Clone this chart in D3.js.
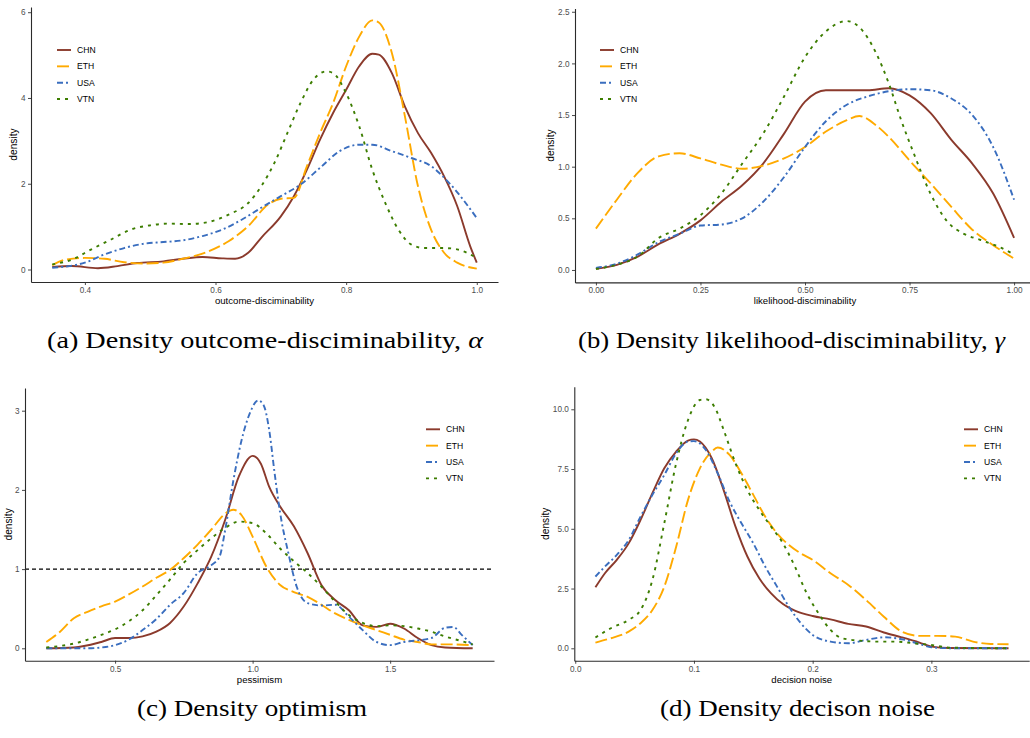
<!DOCTYPE html>
<html>
<head>
<meta charset="utf-8">
<script src="https://cdn.jsdelivr.net/npm/d3@7"></script>
<style>
  html, body { margin: 0; padding: 0; background: #ffffff; }
  svg { display: block; }
</style>
</head>
<body>
<svg id="fig" width="1030" height="738"></svg>
<script>
// ---- series names ----
const countries = ["CHN", "ETH", "USA", "VTN"];

// ---- (a) outcome-disciminability densities: [x, density] ----
const outcomeCHN = [[0.35,0.06],[0.38,0.08],[0.42,0.03],[0.45,0.08],[0.48,0.15],[0.52,0.19],[0.55,0.25],[0.58,0.29],[0.61,0.26],[0.63,0.25],[0.65,0.39],[0.67,0.74],[0.70,1.24],[0.72,1.71],[0.74,2.33],[0.76,3.03],[0.78,3.65],[0.80,4.19],[0.82,4.74],[0.84,5.03],[0.85,5.01],[0.87,4.58],[0.89,3.80],[0.91,3.18],[0.93,2.72],[0.95,2.17],[0.97,1.48],[0.99,0.54],[1.00,0.16]];
const outcomeETH = [[0.35,0.10],[0.37,0.23],[0.40,0.27],[0.43,0.25],[0.46,0.17],[0.49,0.14],[0.52,0.16],[0.55,0.25],[0.58,0.37],[0.62,0.66],[0.65,1.01],[0.68,1.51],[0.70,1.65],[0.72,1.67],[0.74,2.41],[0.76,3.18],[0.78,3.88],[0.80,4.74],[0.82,5.43],[0.84,5.81],[0.85,5.76],[0.87,5.05],[0.89,3.57],[0.91,1.94],[0.93,0.93],[0.95,0.39],[0.97,0.16],[1.00,0.02]];
const outcomeUSA = [[0.35,0.04],[0.40,0.16],[0.43,0.35],[0.46,0.50],[0.49,0.60],[0.52,0.64],[0.55,0.68],[0.58,0.78],[0.61,0.93],[0.64,1.16],[0.67,1.44],[0.70,1.71],[0.73,1.98],[0.76,2.37],[0.79,2.76],[0.82,2.91],[0.84,2.91],[0.87,2.76],[0.90,2.60],[0.93,2.41],[0.96,1.98],[1.00,1.20]];
const outcomeVTN = [[0.35,0.12],[0.38,0.23],[0.41,0.47],[0.44,0.70],[0.47,0.93],[0.50,1.03],[0.53,1.07],[0.56,1.06],[0.59,1.11],[0.62,1.28],[0.65,1.55],[0.67,1.94],[0.69,2.48],[0.71,3.18],[0.73,3.88],[0.75,4.43],[0.77,4.62],[0.78,4.58],[0.80,4.11],[0.82,3.34],[0.84,2.33],[0.86,1.55],[0.88,0.93],[0.90,0.58],[0.92,0.50],[0.95,0.50],[0.97,0.47],[1.00,0.27]];

// ---- (b) likelihood-disciminability densities ----
const likelihoodCHN = [[0.00,0.01],[0.05,0.05],[0.10,0.13],[0.15,0.25],[0.20,0.35],[0.25,0.48],[0.30,0.66],[0.35,0.82],[0.40,1.03],[0.45,1.32],[0.50,1.63],[0.55,1.74],[0.60,1.74],[0.65,1.74],[0.70,1.76],[0.75,1.69],[0.80,1.52],[0.85,1.26],[0.90,1.03],[0.95,0.74],[1.00,0.31]];
const likelihoodETH = [[0.00,0.40],[0.05,0.68],[0.10,0.94],[0.15,1.10],[0.20,1.13],[0.25,1.08],[0.30,1.02],[0.35,0.98],[0.40,1.01],[0.45,1.08],[0.50,1.19],[0.55,1.34],[0.60,1.45],[0.63,1.49],[0.67,1.40],[0.70,1.29],[0.75,1.06],[0.80,0.84],[0.85,0.61],[0.90,0.39],[0.95,0.24],[1.00,0.11]];
const likelihoodUSA = [[0.00,0.02],[0.05,0.06],[0.10,0.15],[0.15,0.27],[0.20,0.35],[0.25,0.43],[0.30,0.44],[0.35,0.50],[0.40,0.66],[0.45,0.90],[0.50,1.19],[0.55,1.44],[0.60,1.60],[0.65,1.68],[0.70,1.73],[0.75,1.75],[0.80,1.74],[0.85,1.66],[0.90,1.50],[0.95,1.19],[1.00,0.68]];
const likelihoodVTN = [[0.00,0.01],[0.05,0.05],[0.10,0.13],[0.15,0.31],[0.20,0.40],[0.25,0.53],[0.30,0.74],[0.35,1.03],[0.40,1.32],[0.45,1.68],[0.50,2.06],[0.55,2.31],[0.60,2.41],[0.63,2.35],[0.67,2.10],[0.70,1.81],[0.73,1.45],[0.76,1.13],[0.80,0.74],[0.84,0.47],[0.88,0.35],[0.92,0.29],[0.96,0.23],[1.00,0.15]];

// ---- (c) pessimism densities ----
const pessimismCHN = [[0.25,0.00],[0.35,0.01],[0.45,0.08],[0.50,0.13],[0.55,0.13],[0.60,0.15],[0.65,0.21],[0.70,0.32],[0.75,0.53],[0.80,0.82],[0.85,1.16],[0.90,1.62],[0.95,2.17],[1.00,2.43],[1.03,2.33],[1.06,2.04],[1.10,1.79],[1.15,1.54],[1.20,1.20],[1.25,0.80],[1.30,0.61],[1.35,0.48],[1.40,0.29],[1.45,0.27],[1.50,0.31],[1.55,0.25],[1.60,0.13],[1.65,0.04],[1.70,0.01],[1.80,0.00]];
const pessimismETH = [[0.25,0.08],[0.30,0.21],[0.35,0.38],[0.40,0.46],[0.45,0.53],[0.50,0.59],[0.55,0.68],[0.60,0.78],[0.65,0.89],[0.70,0.99],[0.75,1.14],[0.80,1.31],[0.85,1.50],[0.90,1.70],[0.93,1.75],[0.96,1.68],[1.00,1.41],[1.05,1.03],[1.10,0.80],[1.15,0.71],[1.20,0.65],[1.25,0.55],[1.30,0.44],[1.35,0.36],[1.40,0.29],[1.45,0.23],[1.50,0.17],[1.55,0.11],[1.60,0.08],[1.65,0.05],[1.70,0.05],[1.80,0.04]];
const pessimismUSA = [[0.25,0.00],[0.40,0.00],[0.45,0.01],[0.50,0.04],[0.55,0.11],[0.60,0.23],[0.65,0.37],[0.70,0.55],[0.75,0.70],[0.80,0.95],[0.85,1.05],[0.88,1.16],[0.90,1.49],[0.93,2.12],[0.96,2.63],[0.99,2.97],[1.02,3.13],[1.04,3.07],[1.06,2.76],[1.08,2.21],[1.10,1.71],[1.13,1.20],[1.16,0.78],[1.20,0.57],[1.25,0.54],[1.30,0.55],[1.35,0.40],[1.40,0.23],[1.45,0.08],[1.50,0.04],[1.55,0.08],[1.60,0.10],[1.65,0.13],[1.70,0.26],[1.73,0.27],[1.76,0.17],[1.80,0.04]];
const pessimismVTN = [[0.25,0.01],[0.35,0.06],[0.45,0.17],[0.50,0.24],[0.55,0.34],[0.60,0.48],[0.65,0.67],[0.70,0.87],[0.75,1.08],[0.80,1.24],[0.85,1.39],[0.90,1.52],[0.95,1.60],[1.00,1.58],[1.05,1.45],[1.10,1.26],[1.15,1.10],[1.20,0.95],[1.25,0.78],[1.30,0.59],[1.35,0.42],[1.40,0.32],[1.45,0.28],[1.50,0.29],[1.55,0.28],[1.60,0.25],[1.65,0.21],[1.70,0.15],[1.75,0.10],[1.80,0.05]];
const pessimismRef = 1;

// ---- (d) decision noise densities ----
const noiseCHN = [[0.017,2.55],[0.025,3.14],[0.035,3.70],[0.045,4.39],[0.055,5.37],[0.065,6.49],[0.075,7.53],[0.085,8.23],[0.095,8.69],[0.100,8.74],[0.105,8.65],[0.115,7.95],[0.125,6.62],[0.135,5.09],[0.145,3.84],[0.155,2.93],[0.165,2.30],[0.175,1.85],[0.185,1.58],[0.200,1.35],[0.215,1.21],[0.230,1.02],[0.245,0.91],[0.260,0.66],[0.275,0.46],[0.290,0.24],[0.300,0.07],[0.315,0.01],[0.365,0.00]];
const noiseETH = [[0.017,0.24],[0.030,0.42],[0.045,0.70],[0.055,1.05],[0.065,1.60],[0.075,2.58],[0.085,4.25],[0.095,6.21],[0.105,7.53],[0.115,8.23],[0.120,8.40],[0.130,8.09],[0.140,7.32],[0.150,6.42],[0.160,5.51],[0.170,4.81],[0.180,4.32],[0.190,3.97],[0.200,3.70],[0.215,3.14],[0.230,2.65],[0.245,2.02],[0.260,1.32],[0.275,0.70],[0.290,0.52],[0.305,0.52],[0.320,0.49],[0.335,0.28],[0.350,0.18],[0.365,0.17]];
const noiseUSA = [[0.017,3.00],[0.025,3.42],[0.035,3.91],[0.045,4.53],[0.055,5.51],[0.065,6.42],[0.075,7.25],[0.085,8.16],[0.095,8.65],[0.100,8.67],[0.110,8.30],[0.120,7.32],[0.130,6.14],[0.140,5.23],[0.150,4.39],[0.160,3.42],[0.170,2.58],[0.180,1.74],[0.190,1.05],[0.200,0.56],[0.215,0.28],[0.230,0.21],[0.245,0.35],[0.260,0.46],[0.275,0.38],[0.290,0.18],[0.300,0.04],[0.320,0.00],[0.365,0.00]];
const noiseVTN = [[0.017,0.45],[0.030,0.84],[0.045,1.19],[0.055,1.60],[0.065,2.86],[0.075,5.23],[0.085,7.74],[0.095,9.55],[0.105,10.39],[0.110,10.42],[0.118,10.04],[0.125,9.14],[0.135,7.74],[0.145,6.62],[0.155,5.79],[0.165,5.09],[0.175,4.39],[0.185,3.42],[0.195,2.30],[0.205,1.46],[0.215,0.77],[0.225,0.42],[0.240,0.32],[0.255,0.28],[0.270,0.28],[0.285,0.21],[0.300,0.14],[0.315,0.03],[0.365,0.00]];

// ---- tick values and labels ----
const outcomeXTicks = [0.4, 0.6, 0.8, 1.0];
const outcomeXLabels = ["0.4", "0.6", "0.8", "1.0"];
const outcomeYTicks = [0, 2, 4, 6];
const outcomeYLabels = ["0", "2", "4", "6"];
const likelihoodXTicks = [0, 0.25, 0.5, 0.75, 1];
const likelihoodXLabels = ["0.00", "0.25", "0.50", "0.75", "1.00"];
const likelihoodYTicks = [0, 0.5, 1, 1.5, 2, 2.5];
const likelihoodYLabels = ["0.0", "0.5", "1.0", "1.5", "2.0", "2.5"];
const pessimismXTicks = [0.5, 1.0, 1.5];
const pessimismXLabels = ["0.5", "1.0", "1.5"];
const pessimismYTicks = [0, 1, 2, 3];
const pessimismYLabels = ["0", "1", "2", "3"];
const noiseXTicks = [0, 0.1, 0.2, 0.3];
const noiseXLabels = ["0.0", "0.1", "0.2", "0.3"];
const noiseYTicks = [0, 2.5, 5, 7.5, 10];
const noiseYLabels = ["0.0", "2.5", "5.0", "7.5", "10.0"];

// ---- line styles per country ----
const seriesStyle = {
  CHN: { color: "#8B3A2C", dash: null },
  ETH: { color: "#FFAA00", dash: "12,4" },
  USA: { color: "#3A6EBF", dash: "6,3,2,3" },
  VTN: { color: "#3C7D00", dash: "3,5" }
};

const sans = "'Liberation Sans', Arial, Helvetica, sans-serif";
const serif = "'Liberation Serif', 'Times New Roman', serif";

// ---- panel layout ----
const panels = [
  {
    series: [outcomeCHN, outcomeETH, outcomeUSA, outcomeVTN],
    xDomain: [0.3175, 1.0325], xRange: [31, 498],
    yDomain: [-0.2915, 6.1215], yRange: [282, 7],
    xTicks: outcomeXTicks, xLabels: outcomeXLabels,
    yTicks: outcomeYTicks, yLabels: outcomeYLabels,
    xTitle: "outcome-disciminability", yTitleX: 13,
    legendX: 57, legendY: 50,
    caption: "(a) Density outcome-disciminability, ", symbol: "\u03B1",
    captionX: 265, captionY: 348, captionW: 436
  },
  {
    series: [likelihoodCHN, likelihoodETH, likelihoodUSA, likelihoodVTN],
    xDomain: [-0.05, 1.05], xRange: [575, 1035],
    yDomain: [-0.1205, 2.5305], yRange: [282.4, 8.6],
    xTicks: likelihoodXTicks, xLabels: likelihoodXLabels,
    yTicks: likelihoodYTicks, yLabels: likelihoodYLabels,
    xTitle: "likelihood-disciminability", yTitleX: 550,
    legendX: 600, legendY: 50,
    caption: "(b) Density likelihood-disciminability, ", symbol: "\u03B3",
    captionX: 791.5, captionY: 348, captionW: 427
  },
  {
    series: [pessimismCHN, pessimismETH, pessimismUSA, pessimismVTN],
    xDomain: [0.1725, 1.8775], xRange: [25, 494],
    yDomain: [-0.1565, 3.2865], yRange: [660.7, 388],
    xTicks: pessimismXTicks, xLabels: pessimismXLabels,
    yTicks: pessimismYTicks, yLabels: pessimismYLabels,
    xTitle: "pessimism", yTitleX: 8.5,
    legendX: 426, legendY: 429.3,
    refLine: pessimismRef,
    caption: "(c) Density optimism", symbol: "",
    captionX: 252, captionY: 716, captionW: 230
  },
  {
    series: [noiseCHN, noiseETH, noiseUSA, noiseVTN],
    xDomain: [-0.0008, 0.3824], xRange: [574.3, 1029.2],
    yDomain: [-0.521, 10.941], yRange: [660.75, 386.8],
    xTicks: noiseXTicks, xLabels: noiseXLabels,
    yTicks: noiseYTicks, yLabels: noiseYLabels,
    xTitle: "decision noise", yTitleX: 545.7,
    legendX: 964, legendY: 429.3,
    caption: "(d) Density decison noise", symbol: "",
    captionX: 797.5, captionY: 716, captionW: 275
  }
];

const svg = d3.select("#fig");
svg.append("rect").attr("width", 1030).attr("height", 738).attr("fill", "#ffffff");

panels.forEach(p => {
  const x = d3.scaleLinear().domain(p.xDomain).range(p.xRange);
  const y = d3.scaleLinear().domain(p.yDomain).range(p.yRange);
  const g = svg.append("g");

  // reference line (density = 1)
  if (p.refLine !== undefined) {
    g.append("line")
      .attr("x1", p.xRange[0]).attr("x2", p.xRange[1])
      .attr("y1", y(p.refLine)).attr("y2", y(p.refLine))
      .attr("stroke", "#000").attr("stroke-width", 1.1)
      .attr("stroke-dasharray", "4,3");
  }

  // density curves
  const line = d3.line()
    .x(d => x(d[0]))
    .y(d => y(d[1]))
    .curve(d3.curveMonotoneX);

  p.series.forEach((s, i) => {
    const st = seriesStyle[countries[i]];
    g.append("path")
      .datum(s)
      .attr("d", line)
      .attr("fill", "none")
      .attr("stroke", st.color)
      .attr("stroke-width", 1.9)
      .attr("stroke-linejoin", "round")
      .attr("stroke-dasharray", st.dash);
  });

  // axes
  const xAxis = d3.axisBottom(x)
    .tickValues(p.xTicks)
    .tickFormat((d, i) => p.xLabels[i])
    .tickSize(3).tickSizeOuter(0).tickPadding(2);
  const yAxis = d3.axisLeft(y)
    .tickValues(p.yTicks)
    .tickFormat((d, i) => p.yLabels[i])
    .tickSize(3).tickSizeOuter(0).tickPadding(2.5);

  const gx = g.append("g").attr("transform", `translate(0,${p.yRange[0]})`).call(xAxis);
  const gy = g.append("g").attr("transform", `translate(${p.xRange[0]},0)`).call(yAxis);

  [gx, gy].forEach(ax => {
    ax.select(".domain").attr("stroke", "#2b2b2b").attr("stroke-width", 1.1);
    ax.selectAll(".tick line").attr("stroke", "#333").attr("stroke-width", 0.9);
    ax.selectAll(".tick text")
      .attr("fill", "#4d4d4d")
      .style("font-family", sans)
      .style("font-size", "8.2px");
  });

  // axis titles
  g.append("text")
    .attr("x", (p.xRange[0] + p.xRange[1]) / 2)
    .attr("y", p.yRange[0] + 22)
    .attr("text-anchor", "middle")
    .style("font-family", sans).style("font-size", "9.6px")
    .attr("fill", "#000")
    .text(p.xTitle);

  g.append("text")
    .attr("transform", `translate(${p.yTitleX},${(p.yRange[0] + p.yRange[1]) / 2}) rotate(-90)`)
    .attr("text-anchor", "middle")
    .attr("dominant-baseline", "central")
    .style("font-family", sans).style("font-size", "10.2px")
    .attr("fill", "#000")
    .text("density");

  // legend
  const lg = g.append("g");
  countries.forEach((c, i) => {
    const st = seriesStyle[c];
    const cy = p.legendY + i * 16.35;
    lg.append("line")
      .attr("x1", p.legendX).attr("x2", p.legendX + 14)
      .attr("y1", cy).attr("y2", cy)
      .attr("stroke", st.color).attr("stroke-width", 1.9)
      .attr("stroke-dasharray", st.dash);
    lg.append("text")
      .attr("x", p.legendX + 20).attr("y", cy)
      .attr("dominant-baseline", "central")
      .style("font-family", sans).style("font-size", "8.6px")
      .attr("fill", "#000")
      .text(c);
  });

  // sub-figure caption
  const cap = svg.append("text")
    .attr("x", p.captionX).attr("y", p.captionY)
    .attr("text-anchor", "middle")
    .attr("textLength", p.captionW)
    .attr("lengthAdjust", "spacingAndGlyphs")
    .style("font-family", serif).style("font-size", "23px")
    .attr("fill", "#000");
  cap.append("tspan").text(p.caption);
  if (p.symbol) cap.append("tspan").style("font-style", "italic").text(p.symbol);
});
</script>
</body>
</html>
